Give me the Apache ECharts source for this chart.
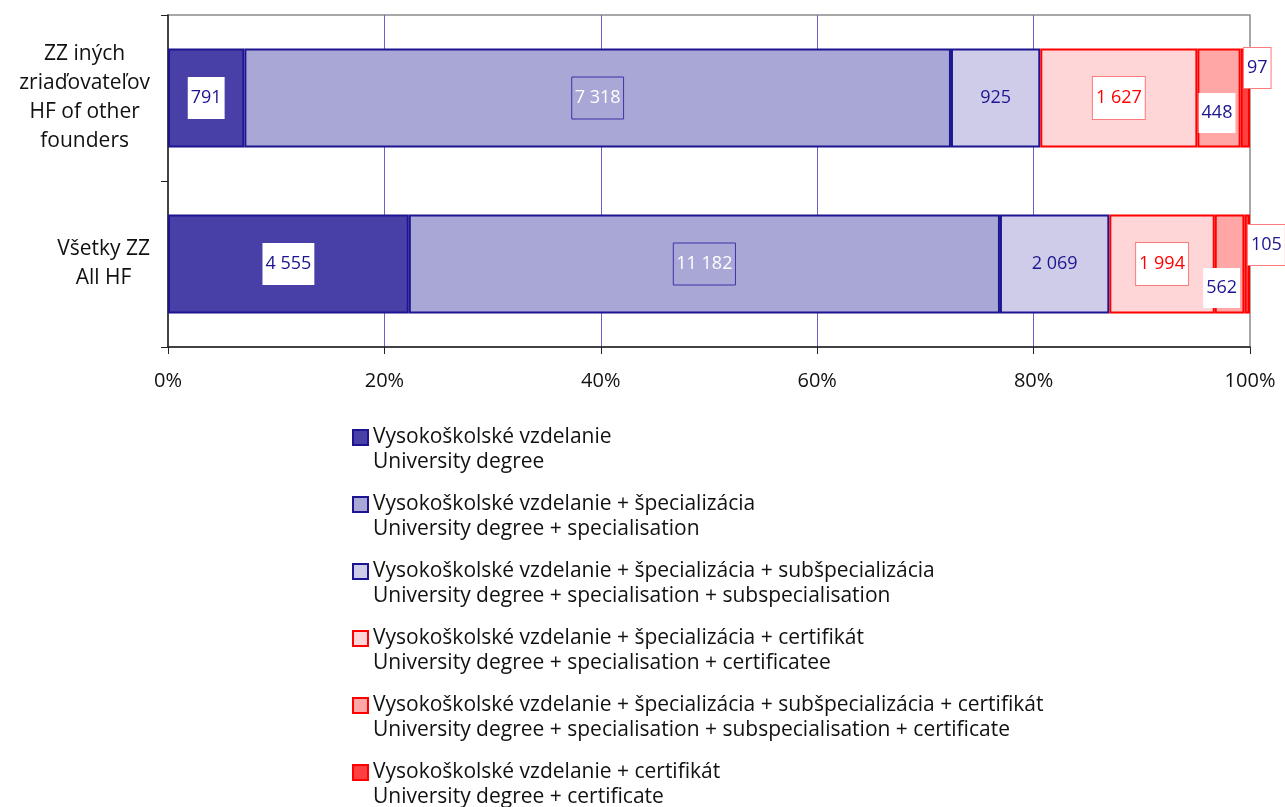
<!DOCTYPE html>
<html>
<head>
<meta charset="utf-8">
<script src="https://cdn.jsdelivr.net/npm/echarts@6/dist/echarts.min.js"></script>
<style>
html,body{margin:0;padding:0;background:#fff;}
#chart{width:1285px;height:807px;}
</style>
</head>
<body>
<div id="chart"></div>
<script>
// ---- data ----
const categories = ['ZZ iných\nzriaďovateľov\nHF of other\nfounders', 'Všetky ZZ\nAll HF'];
const seriesNames = [
  'Vysokoškolské vzdelanie\nUniversity degree',
  'Vysokoškolské vzdelanie + špecializácia\nUniversity degree + specialisation',
  'Vysokoškolské vzdelanie + špecializácia + subšpecializácia\nUniversity degree + specialisation + subspecialisation',
  'Vysokoškolské vzdelanie + špecializácia + certifikát\nUniversity degree + specialisation + certificatee',
  'Vysokoškolské vzdelanie + špecializácia + subšpecializácia + certifikát\nUniversity degree + specialisation + subspecialisation + certificate',
  'Vysokoškolské vzdelanie + certifikát\nUniversity degree + certificate'
];
const uniDegree = [791, 4555];
const uniSpec = [7318, 11182];
const uniSpecSub = [925, 2069];
const uniSpecCert = [1627, 1994];
const uniSpecSubCert = [448, 562];
const uniCert = [97, 105];
const xTicks = [0, 20, 40, 60, 80, 100];

// ---- styling ----
const NAVY = '#1c1490';
const RED = '#ff0000';
const FONT = 'Open Sans';
const allSeries = [uniDegree, uniSpec, uniSpecSub, uniSpecCert, uniSpecSubCert, uniCert];
const totals = categories.map((c, i) => allSeries.reduce((s, arr) => s + arr[i], 0));
const fmt = v => String(v).replace(/\B(?=(\d{3})+(?!\d))/g, ' ');

const fills = ['#4840a6', '#a9a7d5', '#cfcce9', '#ffd6d8', '#ffa6a6', '#ff4040'];
const borders = [NAVY, NAVY, NAVY, RED, RED, RED];
const baseLabel = {fontFamily: FONT, fontSize: 18, lineHeight: 20};
const labelStyles = [
  Object.assign({}, baseLabel, {position: 'inside', color: NAVY, backgroundColor: '#fff', padding: [11, 3]}),
  Object.assign({}, baseLabel, {position: 'inside', color: '#fff', borderColor: '#3a32a8', borderWidth: 1, padding: [11, 3]}),
  Object.assign({}, baseLabel, {position: 'inside', color: NAVY}),
  Object.assign({}, baseLabel, {position: 'inside', color: RED, backgroundColor: '#fff', borderColor: '#ff7a7a', borderWidth: 1, padding: [11, 3]}),
  Object.assign({}, baseLabel, {position: 'inside', color: NAVY, backgroundColor: '#fff', padding: [10, 3]}),
  Object.assign({}, baseLabel, {position: 'right', distance: 0, color: NAVY, backgroundColor: '#fff', borderColor: '#ff7a7a', borderWidth: 1, padding: [10, 3]})
];
const labelOffsets = [null, null, null, null, [[-2, 15], [-8, 24]], [[-6, -30], [-2, -19]]];

const series = allSeries.map((arr, si) => ({
  name: seriesNames[si],
  type: 'bar',
  stack: 'total',
  barWidth: 99,
  itemStyle: {color: fills[si], borderColor: borders[si], borderWidth: 2},
  label: Object.assign({show: true, formatter: p => fmt(arr[p.dataIndex])}, labelStyles[si]),
  emphasis: {disabled: true},
  data: arr.map((v, i) => {
    const item = {value: v / totals[i] * 100};
    if (labelOffsets[si]) item.label = {offset: labelOffsets[si][i]};
    return item;
  })
}));

const chart = echarts.init(document.getElementById('chart'), null, {renderer: 'canvas'});
chart.setOption({
  animation: false,
  backgroundColor: '#fff',
  textStyle: {fontFamily: FONT},
  grid: {left: 168, right: 35, top: 15, bottom: 460, show: true, borderColor: '#8a8a8a', borderWidth: 1.5, backgroundColor: 'transparent'},
  xAxis: {
    type: 'value', min: xTicks[0], max: xTicks[xTicks.length - 1], interval: 20,
    axisLine: {show: true, lineStyle: {color: '#222', width: 1.5}},
    axisTick: {show: true, length: 7, lineStyle: {color: '#222'}},
    axisLabel: {formatter: v => v + '%', color: '#111', fontSize: 20, fontFamily: FONT, margin: 24},
    splitLine: {show: true, showMinLine: false, showMaxLine: false, lineStyle: {color: '#6a62cf', width: 1}}
  },
  yAxis: {
    type: 'category', data: categories, inverse: true,
    axisLine: {show: true, lineStyle: {color: '#222', width: 1.5}},
    axisTick: {show: true, length: 7, lineStyle: {color: '#222'}},
    axisLabel: {
      color: '#111', fontSize: 21, fontFamily: FONT, margin: 18, align: 'right',
      formatter: v => v.split('\n').map(l => '{c|' + l + '}').join('\n'),
      rich: {c: {align: 'center', fontSize: 21, lineHeight: 29, fontFamily: FONT, color: '#111'}}
    }
  },
  legend: {
    orient: 'vertical', left: 352, top: 400, height: 420, padding: 0,
    itemWidth: 15, itemHeight: 15, itemGap: -8,
    icon: 'rect',
    itemStyle: {borderWidth: 2},
    formatter: name => ' \n' + name,
    textStyle: {fontSize: 21, lineHeight: 25, fontFamily: FONT, color: '#111'},
    data: seriesNames,
    selectedMode: false
  },
  series: series
});
</script>
</body>
</html>
